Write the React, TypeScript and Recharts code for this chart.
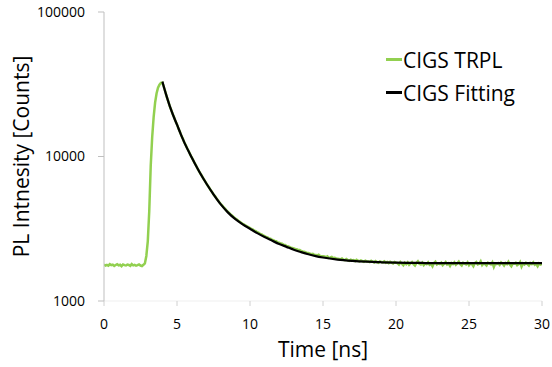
import { Label, Line, LineChart, XAxis, YAxis } from "recharts";

// TRPL counts, one sample every 0.1 ns starting at 0 ns
const trplStep = 0.1;
const trplCounts = [
  // 0.0 - 2.7 ns : background
  1790, 1760, 1780, 1755, 1800, 1770, 1785, 1750, 1775, 1795,
  1765, 1780, 1740, 1790, 1770, 1760, 1785, 1775, 1750, 1800,
  1765, 1780, 1755, 1770, 1790, 1760, 1745, 1780,
  // 2.8 - 3.9 ns : rise
  1820, 2050, 2600, 4200, 8600, 13600, 18700, 23600, 27300, 29900, 31400, 32300,
  // 4.0 - 15.0 ns : decay
  32400, 30200, 28100, 25800, 24200, 22300, 21100, 19700, 18700, 17500,
  16650, 15600, 14850, 13900, 13300, 12500, 11980, 11350, 10900, 10330,
  9900, 9480, 9020, 8700, 8280, 7960, 7620, 7360, 7040, 6810,
  6540, 6290, 6110, 5860, 5690, 5460, 5320, 5140, 4990, 4820,
  4690, 4570, 4440, 4340, 4210, 4130, 4040, 3950, 3880, 3790,
  3720, 3660, 3590, 3540, 3470, 3420, 3380, 3320, 3290, 3240,
  3200, 3150, 3120, 3060, 3040, 2990, 2960, 2910, 2890, 2840,
  2810, 2780, 2760, 2710, 2700, 2650, 2640, 2600, 2590, 2540,
  2530, 2500, 2490, 2450, 2440, 2400, 2390, 2370, 2340, 2330,
  2310, 2290, 2280, 2250, 2250, 2220, 2200, 2190, 2180, 2150,
  2150, 2130, 2110, 2120, 2090, 2080, 2070, 2090, 2050, 2040,
  2040,
  // 15.1 - 20.0 ns
  2030, 2010, 2040, 1990, 2000, 2020, 1980, 1990, 1970, 1960,
  1950, 1940, 1970, 1930, 1920, 1950, 1920, 1900, 1930, 1910,
  1920, 1890, 1930, 1900, 1880, 1910, 1890, 1870, 1900, 1880,
  1880, 1860, 1900, 1870, 1850, 1890, 1860, 1840, 1880, 1860,
  1850, 1880, 1840, 1860, 1830, 1870, 1845, 1820, 1860, 1840,
  // 20.1 - 30.0 ns : tail
  1830, 1790, 1860, 1810, 1770, 1840, 1800, 1850, 1780, 1820,
  1860, 1800, 1760, 1830, 1880, 1810, 1790, 1840, 1770, 1820,
  1800, 1850, 1780, 1810, 1740, 1830, 1870, 1790, 1820, 1800,
  1840, 1770, 1810, 1860, 1790, 1820, 1750, 1830, 1800, 1850,
  1780, 1820, 1870, 1800, 1760, 1840, 1810, 1790, 1850, 1770,
  1820, 1800, 1740, 1830, 1860, 1790, 1810, 1880, 1770, 1820,
  1800, 1760, 1840, 1810, 1790, 1850, 1720, 1820, 1800, 1830,
  1780, 1850, 1810, 1760, 1830, 1800, 1870, 1790, 1740, 1820,
  1810, 1840, 1770, 1800, 1860, 1730, 1820, 1790, 1840, 1800,
  1760, 1830, 1800, 1850, 1780, 1810, 1740, 1820, 1790, 1810,
];

// fitted curve
const fitTimes = [
  4, 4.25, 4.5, 4.75, 5, 5.25, 5.5, 6, 6.5, 7, 7.5, 8, 8.5, 9, 9.5, 10,
  10.5, 11, 11.5, 12, 12.5, 13, 13.5, 14, 14.5, 15, 16, 17, 18, 19, 20,
  22, 25, 30,
];
const fitCounts = [
  33000, 26900, 22400, 19140, 16600, 14350, 12530, 9890, 7940, 6530, 5470,
  4660, 4090, 3680, 3390, 3160, 2950, 2770, 2620, 2480, 2370, 2265, 2180,
  2105, 2045, 2000, 1936, 1897, 1871, 1854, 1841, 1832, 1828, 1828,
];

const xTicks = [0, 5, 10, 15, 20, 25, 30];
const yTicks = [1000, 10000, 100000];

const trplData = trplCounts.map((v, i) => ({ t: Math.round(i * trplStep * 10) / 10, v }));
const fitData = fitTimes.map((t, i) => ({ t, v: fitCounts[i] }));

const font = "'Open Sans', sans-serif";
const GREEN = "#92d050";

const series = [
  { name: "CIGS TRPL", color: GREEN },
  { name: "CIGS Fitting", color: "#000000" },
];

// Excel-style legend, placed over the plot so it doesn't shrink it
function LegendBox() {
  return (
    <div style={{ position: "absolute", left: 386, top: 43, fontFamily: font, fontSize: 21, color: "#000" }}>
      {series.map((s) => (
        <div key={s.name} style={{ display: "flex", alignItems: "center", height: 33 }}>
          <span style={{ display: "inline-block", width: 16, height: 2.5, background: s.color, marginRight: 1 }} />
          <span>{s.name}</span>
        </div>
      ))}
    </div>
  );
}

export default function App() {
  return (
    <div style={{ position: "absolute", left: 0, top: 0, width: 552, height: 367, background: "#fff" }}>
      <LineChart width={552} height={367} margin={{ top: 12, right: 10, bottom: 6, left: 0 }}>
        <XAxis
          dataKey="t"
          type="number"
          domain={[0, 30]}
          ticks={xTicks}
          allowDataOverflow
          height={60}
          axisLine={{ stroke: "#efefef" }}
          tickLine={{ stroke: "#d0d0d0" }}
          tickSize={5}
          tickMargin={13}
          tick={{ fontSize: 14, fill: "#000", fontFamily: font }}
        >
          <Label value="Time [ns]" position="insideBottom" offset={4} style={{ fontSize: 21, fill: "#000", fontFamily: font }} />
        </XAxis>
        <YAxis
          dataKey="v"
          scale="log"
          domain={[1000, 100000]}
          ticks={yTicks}
          allowDataOverflow
          width={104}
          axisLine={{ stroke: "#bfbfbf" }}
          tickLine={{ stroke: "#bfbfbf" }}
          tickSize={6}
          tickMargin={13}
          tick={{ fontSize: 14, fill: "#000", fontFamily: font }}
        >
          <Label
            value="PL Intnesity [Counts]"
            angle={-90}
            position="insideLeft"
            offset={22}
            style={{ fontSize: 21, fill: "#000", fontFamily: font, textAnchor: "middle" }}
          />
        </YAxis>
        <Line
          data={trplData}
          dataKey="v"
          name="CIGS TRPL"
          type="linear"
          stroke={GREEN}
          strokeWidth={2.5}
          dot={false}
          isAnimationActive={false}
        />
        <Line
          data={fitData}
          dataKey="v"
          name="CIGS Fitting"
          type="monotone"
          stroke="#000"
          strokeWidth={2.25}
          dot={false}
          isAnimationActive={false}
        />
      </LineChart>
      <LegendBox />
    </div>
  );
}
